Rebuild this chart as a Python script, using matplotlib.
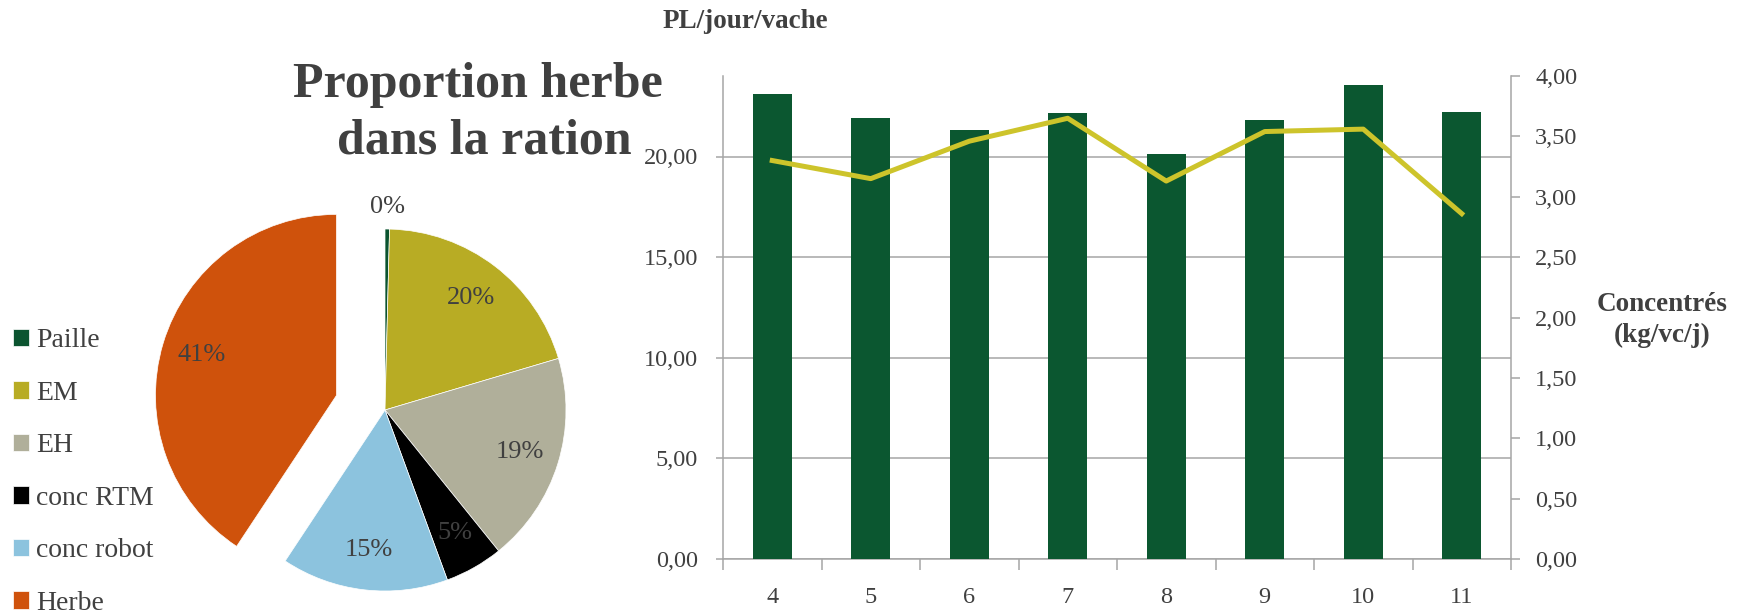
import matplotlib
matplotlib.use('Agg')
import matplotlib.pyplot as plt
from matplotlib.ticker import FuncFormatter, MultipleLocator

plt.rcParams['font.family'] = ['Liberation Serif', 'DejaVu Serif']

# --- data ---
parts = ['Paille', 'EM', 'EH', 'conc RTM', 'conc robot', 'Herbe']
shares = [0.4, 20.0, 18.8, 5.2, 14.9, 40.7]
part_colors = ['#0b5430', '#b8ac24', '#b0af9a', '#000000', '#8cc3de', '#cf520c']

months = [4, 5, 6, 7, 8, 9, 10, 11]
pl_vache = [23.11, 21.90, 21.32, 22.16, 20.12, 21.79, 23.56, 22.22]
concentres = [3.30, 3.15, 3.46, 3.65, 3.13, 3.54, 3.56, 2.86]

TXT = '#404040'
GRID = '#a6a6a6'
W, H = 1746, 614
fig = plt.figure(figsize=(W / 100, H / 100), dpi=100)


def px(x, y, w, h):
    # box given in pixels from the top-left corner
    return [x / W, 1 - (y + h) / H, w / W, h / H]


def virgule(v, pos):
    return ('%.2f' % v).replace('.', ',')


# --- pie ---
ax_pie = fig.add_axes(px(125, 150, 520, 520))
wedges, texts, autotexts = ax_pie.pie(
    shares, colors=part_colors, explode=[0, 0, 0, 0, 0, 0.28],
    startangle=90, counterclock=False, autopct='%1.0f%%', pctdistance=0.78,
    wedgeprops=dict(edgecolor='white', linewidth=0.5),
    textprops=dict(color=TXT, fontsize=19))
lim = 260 / 181
ax_pie.set_xlim(-lim, lim)
ax_pie.set_ylim(-lim, lim)
# tiny slice: label outside
x0, y0 = autotexts[0].get_position()
autotexts[0].set_position((x0 * 1.12 / 0.78, y0 * 1.12 / 0.78))

fig.legend(wedges, parts, loc='center left', bbox_to_anchor=(13 / W, 1 - 472 / H),
           frameon=False, fontsize=20, handlelength=0.58, handleheight=0.58,
           handletextpad=0.25, labelspacing=0.99, borderpad=0, borderaxespad=0,
           labelcolor=TXT)

fig.text(478 / W, 1 - 97 / H, 'Proportion herbe', ha='center', va='baseline',
         fontsize=36, fontweight='bold', color=TXT)
fig.text(484 / W, 1 - 154 / H, 'dans la ration', ha='center', va='baseline',
         fontsize=36, fontweight='bold', color=TXT)

# --- bars + line ---
ax = fig.add_axes(px(723, 76, 788, 483))
xs = range(len(months))
ax.bar(xs, pl_vache, width=0.4, color='#0b5730', zorder=3)
ax.set_xlim(-0.5, len(months) - 0.5)
ax.set_ylim(0, 24)
ax.set_yticks([0, 5, 10, 15, 20])
ax.yaxis.set_major_formatter(FuncFormatter(virgule))
ax.grid(axis='y', color=GRID, linewidth=1.1, zorder=0)
ax.set_xticks(list(xs))
ax.set_xticklabels([str(m) for m in months])
ax.set_xticks([i - 0.5 for i in range(len(months) + 1)], minor=True)
ax.tick_params(axis='x', which='major', length=0, pad=20, labelsize=17.5, labelcolor=TXT)
ax.tick_params(axis='x', which='minor', length=8, width=1.1, color=GRID)
ax.tick_params(axis='y', length=5, width=1.1, color=GRID, pad=13, labelsize=17.5, labelcolor=TXT)
for s in ['top', 'right']:
    ax.spines[s].set_visible(False)
for s in ['left', 'bottom']:
    ax.spines[s].set_color(GRID)
    ax.spines[s].set_linewidth(1.1)

ax2 = ax.twinx()
ax2.plot(xs, concentres, color='#cdc42b', linewidth=3.6, zorder=4)
ax2.set_ylim(0, 4)
ax2.yaxis.set_major_locator(MultipleLocator(0.5))
ax2.yaxis.set_major_formatter(FuncFormatter(virgule))
ax2.tick_params(axis='y', length=6.5, width=1.1, color=GRID, pad=11, labelsize=17.5, labelcolor=TXT)
for s in ['top', 'left', 'bottom']:
    ax2.spines[s].set_visible(False)
ax2.spines['right'].set_color(GRID)
ax2.spines['right'].set_linewidth(1.1)

fig.text(745 / W, 1 - 22 / H, 'PL/jour/vache', ha='center', va='center',
         fontsize=19.5, fontweight='bold', color=TXT)
fig.text(1662 / W, 1 - 320 / H, 'Concentrés\n(kg/vc/j)', ha='center', va='center',
         fontsize=19.5, fontweight='bold', color=TXT, linespacing=1.3)

fig.savefig('out.png', dpi=100)
